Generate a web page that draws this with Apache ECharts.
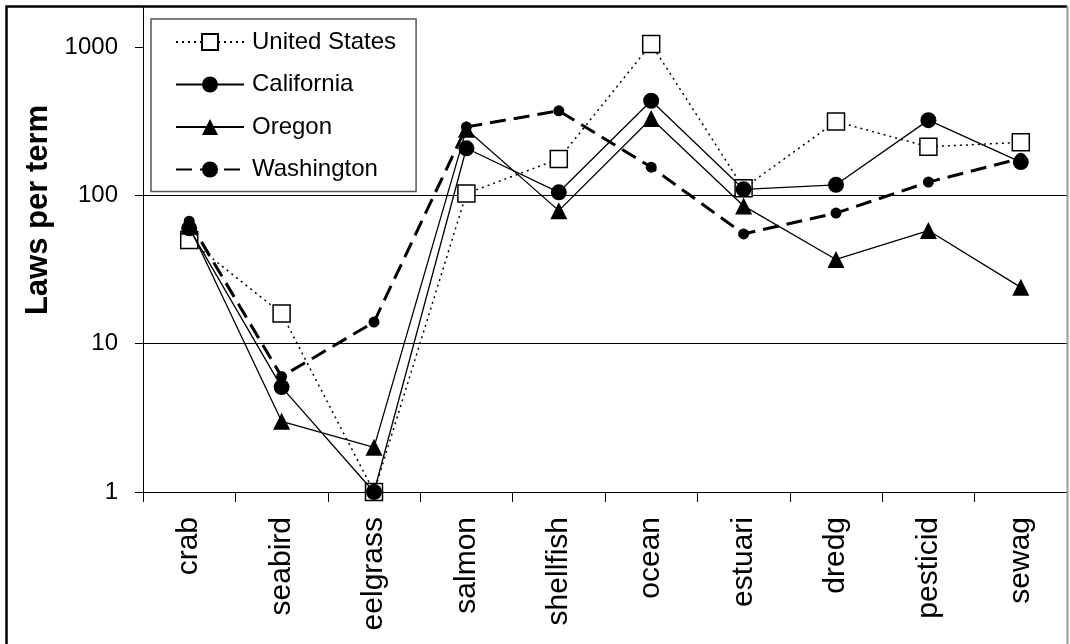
<!DOCTYPE html>
<html>
<head>
<meta charset="utf-8">
<title>Laws per term</title>
<script src="https://cdn.jsdelivr.net/npm/echarts@6/dist/echarts.min.js"></script>
<style>
  html, body { margin: 0; padding: 0; background: #fff; }
  #chart { width: 1070px; height: 644px; }
</style>
</head>
<body>
<div id="chart"></div>
<script>
// Terms searched and the number of laws found per term (log scale)
const categories = ['crab', 'seabird', 'eelgrass', 'salmon', 'shellfish', 'ocean', 'estuari', 'dredg', 'pesticid', 'sewag'];
const unitedStates = [50, 16, 1, 103, 176, 1050, 112, 315, 213, 228];
const california   = [60, 5.1, 1, 208, 105, 435, 110, 118, 322, 168];
const oregon       = [62, 3, 2, 280, 79, 330, 85, 37, 58, 24];
const washington   = [67, 6, 14, 290, 372, 155, 55, 76, 123, 178];
const yTicks = [1, 10, 100, 1000];

const FONT = '"Liberation Sans", Arial, sans-serif';
const isDecade = v => Math.abs(Math.log10(v) - Math.round(Math.log10(v))) < 1e-6;

const chart = echarts.init(document.getElementById('chart'), null, { renderer: 'canvas' });

chart.setOption({
  animation: false,
  backgroundColor: '#fff',
  textStyle: { fontFamily: FONT, color: '#000' },
  grid: { left: 143, right: 3, top: 7, bottom: 152, containLabel: false },
  legend: {
    orient: 'vertical',
    left: 151,
    top: 19,
    padding: [11, 20, 10, 24],
    itemWidth: 68,
    itemHeight: 20,
    itemGap: 18.5,
    backgroundColor: '#fff',
    borderColor: '#555',
    borderWidth: 1.5,
    z: 20,
    textStyle: { fontFamily: FONT, fontSize: 24, color: '#000', lineHeight: 24, padding: [0, 0, 0, 3] },
    data: ['United States', 'California', 'Oregon', 'Washington']
  },
  xAxis: {
    type: 'category',
    data: categories,
    boundaryGap: true,
    axisLine: { lineStyle: { color: '#000', width: 1 } },
    axisTick: { show: true, length: 10, alignWithLabel: false, lineStyle: { color: '#000' } },
    axisLabel: { rotate: 90, margin: 25, fontSize: 30, fontFamily: FONT, color: '#000', interval: 0 },
    splitLine: { show: false }
  },
  yAxis: {
    type: 'log',
    logBase: 10,
    min: 1,
    max: 1866,
    axisLine: { show: true, lineStyle: { color: '#000', width: 1 } },
    axisTick: { show: true, length: 8, customValues: yTicks, lineStyle: { color: '#000' } },
    axisLabel: {
      margin: 25, fontSize: 24, fontFamily: FONT, color: '#000',
      customValues: yTicks,
      formatter: v => isDecade(v) ? String(Math.round(v)) : ''
    },
    splitLine: { show: true, showMaxLine: false, lineStyle: { color: '#000', width: 1 } }
  },
  series: [
    {
      name: 'United States', type: 'line', data: unitedStates, z: 2,
      symbol: 'rect', symbolSize: 17,
      itemStyle: { color: '#fff', borderColor: '#000', borderWidth: 1.5 },
      lineStyle: { color: '#000', width: 1.5, type: [2, 4] }
    },
    {
      name: 'California', type: 'line', data: california, z: 4,
      symbol: 'circle', symbolSize: 16,
      itemStyle: { color: '#000', borderWidth: 0 },
      lineStyle: { color: '#000', width: 1.3, type: 'solid' }
    },
    {
      name: 'Oregon', type: 'line', data: oregon, z: 3,
      symbol: 'triangle', symbolSize: 17,
      itemStyle: { color: '#000', borderWidth: 0 },
      lineStyle: { color: '#000', width: 1.3, type: 'solid' }
    },
    {
      name: 'Washington', type: 'line', data: washington, z: 5,
      symbol: 'circle', symbolSize: 11,
      itemStyle: { color: '#000', borderWidth: 0 },
      lineStyle: { color: '#000', width: 3, type: [16, 8] }
    }
  ],
  graphic: [
    {
      // y-axis title, rotated to read bottom-to-top
      type: 'text', z: 10, silent: true,
      x: 38, y: 210, rotation: Math.PI / 2,
      style: {
        text: 'Laws per term',
        font: 'bold 31px ' + FONT,
        fill: '#000',
        align: 'center',
        verticalAlign: 'middle'
      }
    },
    {
      type: 'polyline', z: 30, silent: true,
      shape: { points: [[6.5, 700], [6.5, 6.5], [1067, 6.5]] },
      style: { stroke: '#000', lineWidth: 2.5, fill: null }
    },
    {
      type: 'line', z: 30, silent: true,
      shape: { x1: 1067.5, y1: 6, x2: 1067.5, y2: 700 },
      style: { stroke: '#999', lineWidth: 2 }
    }
  ]
});
</script>
</body>
</html>
